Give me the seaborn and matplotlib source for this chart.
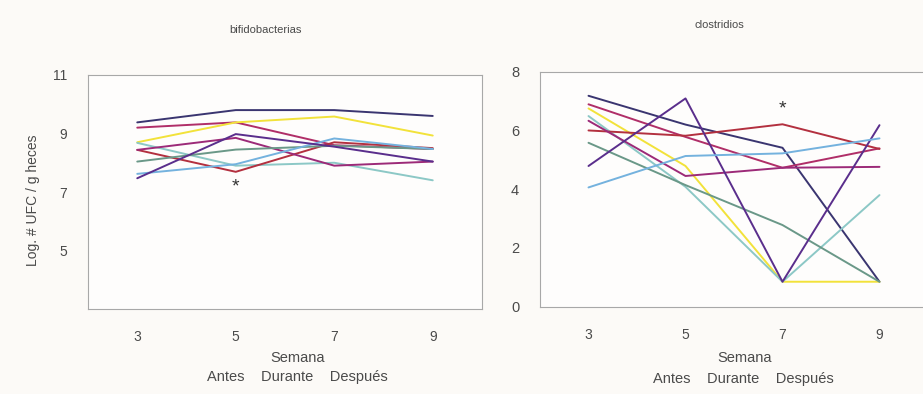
import matplotlib
matplotlib.use("Agg")
import matplotlib.pyplot as plt
import seaborn as sns
import pandas as pd

weeks = [3, 5, 7, 9]

# bifidobacterias (left panel)
bifido = {
    "s1": [9.38, 9.80, 9.80, 9.60],
    "s2": [9.20, 9.38, 8.60, 8.47],
    "s3": [8.70, 9.38, 9.58, 8.93],
    "s4": [8.68, 7.90, 8.00, 7.40],
    "s5": [8.44, 7.69, 8.70, 8.50],
    "s6": [8.44, 8.85, 7.90, 8.04],
    "s7": [8.04, 8.45, 8.58, 8.47],
    "s8": [7.62, 7.95, 8.83, 8.47],
    "s9": [7.47, 8.98, 8.55, 8.04],
}

# clostridios (right panel)
clostr = {
    "s1": [7.18, 6.20, 5.41, 0.85],
    "s2": [6.89, 5.78, 4.73, 5.39],
    "s3": [6.75, 4.79, 0.85, 0.85],
    "s4": [6.49, 4.08, 0.85, 3.80],
    "s5": [6.00, 5.82, 6.21, 5.37],
    "s6": [6.33, 4.45, 4.73, 4.76],
    "s7": [5.58, 4.14, 2.78, 0.85],
    "s9": [4.79, 7.09, 0.85, 6.18],
    "s8": [4.06, 5.13, 5.22, 5.73],
}

palette = {
    "s1": "#3a3570",
    "s2": "#b02e68",
    "s3": "#f2e23a",
    "s4": "#8cc8c6",
    "s5": "#b3303f",
    "s6": "#9c2a78",
    "s7": "#6a9888",
    "s8": "#74b2de",
    "s9": "#5a2e8c",
}

titles = ["bifidobacterias", "clostridios"]
xlabel = "Semana"
phases = "Antes    Durante    Después"
ylabel = "Log. # UFC / g heces"


def to_long(d):
    rows = []
    for k, vals in d.items():
        for w, v in zip(weeks, vals):
            rows.append({"serie": k, "semana": w, "valor": v})
    return pd.DataFrame(rows)


sns.set_style("white")
plt.rcParams["font.family"] = ["Liberation Sans", "DejaVu Sans"]

bg = "#fcfaf7"
fig = plt.figure(figsize=(9.23, 3.94), dpi=100, facecolor=bg)
axL = fig.add_axes([88 / 923, 1 - 309 / 394, 394 / 923, 234 / 394])
axR = fig.add_axes([540 / 923, 1 - 306.7 / 394, 388 / 923, 235 / 394])

txtc = "#4a4a4a"
spc = "#a8a8a8"

for ax, data in [(axL, bifido), (axR, clostr)]:
    df = to_long(data)
    sns.lineplot(data=df, x="semana", y="valor", hue="serie", palette=palette,
                 ax=ax, linewidth=1.4, legend=False, estimator=None, sort=False)
    ax.set_facecolor("#fefdfc")
    ax.set_xlim(2, 10)
    ax.set_xticks(weeks)
    ax.set_xticks([4, 6, 8], minor=True)
    ax.tick_params(axis="x", which="major", length=0, pad=15, labelsize=10, labelcolor=txtc)
    ax.tick_params(axis="x", which="minor", length=3, color=spc, direction="out")
    ax.tick_params(axis="y", length=3, color=spc, direction="out", pad=12,
                   labelsize=10, labelcolor=txtc)
    ax.set_xlabel("")
    ax.set_ylabel("")
    for s in ax.spines.values():
        s.set_color(spc)
        s.set_linewidth(0.8)

axL.set_ylim(3, 11)
axL.set_yticks([3, 5, 7, 9, 11])
axL.set_yticklabels(["", "5", "7", "9", "11"])
axR.set_ylim(0, 8)
axR.set_yticks([0, 2, 4, 6, 8])
axR.tick_params(axis="y", labelsize=10.5)

axL.text(5, 7.17, "*", ha="center", va="center", fontsize=14, color="#333333")
axR.text(7, 6.72, "*", ha="center", va="center", fontsize=14, color="#333333")

fig.text(265 / 923, 1 - 30 / 394, titles[0], ha="center", va="center", fontsize=8, color=txtc)
fig.text(719 / 923, 1 - 25 / 394, titles[1], ha="center", va="center", fontsize=8, color=txtc)

fig.text(298 / 923, 1 - 358 / 394, xlabel, ha="center", va="center", fontsize=10.5, color=txtc)
fig.text(297 / 923, 1 - 377 / 394, phases, ha="center", va="center", fontsize=10.5, color=txtc)
fig.text(745 / 923, 1 - 358 / 394, xlabel, ha="center", va="center", fontsize=10.5, color=txtc)
fig.text(743 / 923, 1 - 379 / 394, phases, ha="center", va="center", fontsize=10.5, color=txtc)

fig.text(33 / 923, 1 - 200 / 394, ylabel, ha="center", va="center", rotation=90,
         fontsize=10, color=txtc)

fig.savefig("out.png", dpi=100, facecolor=bg)
